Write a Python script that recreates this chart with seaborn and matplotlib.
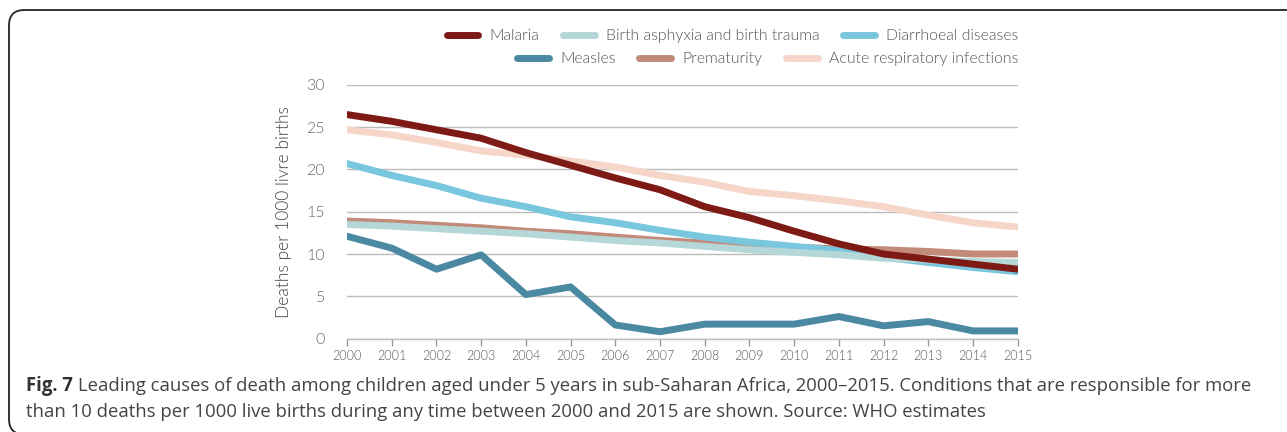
import matplotlib
matplotlib.use("Agg")
import matplotlib.pyplot as plt
import seaborn as sns
import pandas as pd
from matplotlib.patches import FancyBboxPatch
from matplotlib.lines import Line2D

years = list(range(2000, 2016))
malaria = [26.5, 25.7, 24.7, 23.7, 22.0, 20.5, 19.0, 17.6, 15.6, 14.3, 12.7, 11.2, 10.0, 9.4, 8.8, 8.2]
birth_asphyxia = [13.5, 13.3, 13.0, 12.7, 12.4, 12.0, 11.6, 11.3, 10.9, 10.5, 10.2, 9.9, 9.5, 9.3, 9.1, 9.0]
diarrhoeal = [20.7, 19.3, 18.1, 16.6, 15.6, 14.4, 13.7, 12.8, 12.0, 11.4, 10.9, 10.4, 9.6, 9.0, 8.4, 7.9]
measles = [12.1, 10.7, 8.2, 9.9, 5.2, 6.1, 1.6, 0.8, 1.7, 1.7, 1.7, 2.6, 1.5, 2.0, 0.9, 0.9]
prematurity = [13.9, 13.7, 13.4, 13.1, 12.7, 12.4, 12.0, 11.6, 11.3, 11.0, 10.8, 10.6, 10.5, 10.3, 10.0, 10.0]
acute_resp = [24.7, 24.1, 23.2, 22.2, 21.7, 21.0, 20.3, 19.3, 18.5, 17.4, 16.9, 16.3, 15.6, 14.6, 13.7, 13.2]

names = ["Malaria", "Birth asphyxia and birth trauma", "Diarrhoeal diseases",
         "Measles", "Prematurity", "Acute respiratory infections"]
series = [malaria, birth_asphyxia, diarrhoeal, measles, prematurity, acute_resp]
colors = {"Malaria": "#7e1a15", "Birth asphyxia and birth trauma": "#b5d7d7",
          "Diarrhoeal diseases": "#79c6df", "Measles": "#4a89a1",
          "Prematurity": "#c28a78", "Acute respiratory infections": "#f5d6c9"}

rows = []
for n, vals in zip(names, series):
    for y, v in zip(years, vals):
        rows.append({"Year": y, "Cause": n, "Value": v})
df = pd.DataFrame(rows)

sns.set_style("white")
plt.rcParams['font.family'] = ['Lato', 'DejaVu Sans']
FW = 300

fig = plt.figure(figsize=(12.87, 4.32), dpi=100)
W, H = 1287, 432
ax = fig.add_axes([347 / W, 1 - 338.5 / H, (1017.7 - 347) / W, (338.5 - 85) / H])

draw_order = ["Acute respiratory infections", "Prematurity", "Diarrhoeal diseases",
              "Birth asphyxia and birth trauma", "Measles", "Malaria"]
sns.lineplot(data=df, x="Year", y="Value", hue="Cause", hue_order=draw_order,
             palette=colors, linewidth=5, legend=False, ax=ax,
             solid_capstyle="round", solid_joinstyle="round")

ax.set_xlim(2000, 2015)
ax.set_ylim(0, 30)
ax.set_yticks([0, 5, 10, 15, 20, 25, 30])
ax.set_xticks(years)
ax.set_xticklabels([str(y) for y in years], fontsize=9, color="#555555", fontweight=FW)
for t in ax.get_yticklabels():
    t.set_fontsize(11.5)
    t.set_color("#666666")
    t.set_fontweight(FW)
ax.grid(axis="y", color="#bbbbbb", linewidth=1)
ax.set_axisbelow(True)
for s in ["top", "right", "left"]:
    ax.spines[s].set_visible(False)
ax.spines["bottom"].set_color("#bbbbbb")
ax.spines["bottom"].set_linewidth(1)
ax.tick_params(axis="x", length=5, width=1, color="#999999", pad=3, bottom=True)
ax.tick_params(axis="y", length=0, pad=16)
ax.set_xlabel("")
ax.set_ylabel("Deaths per 1000 livre births", fontsize=12.5, color="#444444",
              fontweight=FW, labelpad=10)

def handle(n):
    return Line2D([], [], color=colors[n], linewidth=5, solid_capstyle="round")

row1 = ["Malaria", "Birth asphyxia and birth trauma", "Diarrhoeal diseases"]
row2 = ["Measles", "Prematurity", "Acute respiratory infections"]
leg_kw = dict(ncol=3, frameon=False, fontsize=11.4, handlelength=2.0,
              handletextpad=0.7, columnspacing=1.5, loc="center right",
              bbox_transform=fig.transFigure, borderpad=0)
l1 = fig.legend([handle(n) for n in row1], row1, bbox_to_anchor=(1026 / W, 1 - 36 / H), **leg_kw)
l2 = fig.legend([handle(n) for n in row2], row2, bbox_to_anchor=(1026 / W, 1 - 59 / H), **leg_kw)
for l in (l1, l2):
    for t in l.get_texts():
        t.set_color("#555555")
        t.set_fontweight(FW)

box = FancyBboxPatch((9 / W, 1 - 434.5 / H), 1320 / W, 424.5 / H,
                     boxstyle="round,pad=0,rounding_size=0.012",
                     transform=fig.transFigure, facecolor="none",
                     edgecolor="#222222", linewidth=1.3, clip_on=False,
                     mutation_aspect=W / H)
fig.patches.append(box)

cap_font = ['Open Sans', 'DejaVu Sans']
CS = 13.35
y1 = 1 - 386 / H
t1 = fig.text(26 / W, y1, "Fig. 7", fontsize=CS, fontweight="bold", color="#333333",
              family=cap_font, va="center", ha="left")
fig.canvas.draw()
bb = t1.get_window_extent()
fig.text(bb.x1 / W + 5 / W, y1,
         "Leading causes of death among children aged under 5 years in sub-Saharan Africa, 2000\u20132015. Conditions that are responsible for more",
         fontsize=CS, color="#444444", family=cap_font, va="center", ha="left")
fig.text(26 / W, 1 - 412 / H,
         "than 10 deaths per 1000 live births during any time between 2000 and 2015 are shown. Source: WHO estimates",
         fontsize=CS, color="#444444", family=cap_font, va="center", ha="left")

fig.savefig("out.png", dpi=100)
